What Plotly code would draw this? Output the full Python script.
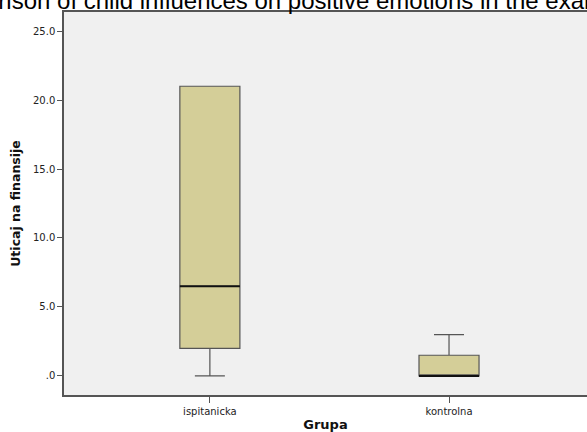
import plotly.graph_objects as go

# Box-plot summary per group (Uticaj na finansije)
groups = ["ispitanicka", "kontrolna"]
q1 = [2.0, 0.0]
median = [6.5, 0.0]
q3 = [21.0, 1.5]
lower_whisker = [0.0, 0.0]
upper_whisker = [21.0, 3.0]

y_ticks = [0, 5, 10, 15, 20, 25]
y_tick_labels = [".0", "5.0", "10.0", "15.0", "20.0", "25.0"]

title_text = "Comparison of child influences on positive emotions in the examined groups"

W, H = 587, 432
M_L, M_R, M_T, M_B = 64, 0, 12, 37
plot_w = W - M_L - M_R
plot_h = H - M_T - M_B

box_w = 0.251
fill = "#D4CE98"
edge = "#555555"
title_font = "Liberation Sans, Arial, sans-serif"
axis_font = "DejaVu Sans, Verdana, sans-serif"

fig = go.Figure()
for i, g in enumerate(groups):
    fig.add_trace(go.Box(
        x=[i], q1=[q1[i]], median=[median[i]], q3=[q3[i]],
        lowerfence=[lower_whisker[i]], upperfence=[upper_whisker[i]],
        width=box_w, whiskerwidth=0.5,
        fillcolor=fill, line=dict(color=edge, width=1.2),
        boxpoints=False, showlegend=False, hoverinfo="skip",
    ))
    # heavier median bar drawn over the box
    fig.add_trace(go.Scatter(
        x=[i - box_w / 2, i + box_w / 2], y=[median[i], median[i]],
        mode="lines", line=dict(color="#111111", width=2),
        showlegend=False, hoverinfo="skip",
    ))

# title sits partly above the page edge
fig.add_annotation(
    text=title_text, xref="paper", yref="paper",
    x=(-81 - M_L) / plot_w, y=1 + (M_T - 1) / plot_h,
    xanchor="left", yanchor="middle", showarrow=False,
    font=dict(family=title_font, size=24, color="#000000"),
)

fig.update_layout(
    width=W, height=H,
    margin=dict(l=M_L, r=M_R, t=M_T, b=M_B),
    paper_bgcolor="#FFFFFF", plot_bgcolor="#F0F0F0",
    font=dict(family=axis_font, color="#333333"),
    xaxis=dict(
        range=[-0.61, 1.577], tickvals=[0, 1], ticktext=groups,
        showgrid=False, zeroline=False,
        showline=True, linecolor=edge, linewidth=1.5, mirror=True,
        ticks="outside", ticklen=6, tickcolor=edge, tickwidth=1,
        tickfont=dict(family=axis_font, size=10, color="#222222"),
        title=dict(text="<b>Grupa</b>", font=dict(family=axis_font, size=13, color="#111111"), standoff=4),
    ),
    yaxis=dict(
        range=[-1.38, 26.38], tickvals=y_ticks, ticktext=y_tick_labels,
        showgrid=False, zeroline=False,
        showline=True, linecolor=edge, linewidth=1.5,
        ticks="outside", ticklen=5, tickcolor=edge, tickwidth=1,
        tickfont=dict(family=axis_font, size=10, color="#222222"),
        title=dict(text="<b>Uticaj na finansije</b>", font=dict(family=axis_font, size=12.5, color="#111111"), standoff=10),
    ),
)

fig.write_html("out.html")
